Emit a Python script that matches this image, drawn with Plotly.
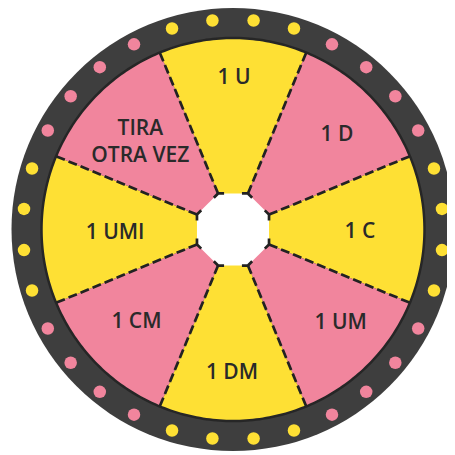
import numpy as np
import plotly.graph_objects as go

# ---- data ----
labels = ["1 U", "1 D", "1 C", "1 UM", "1 DM", "1 CM", "1 UMI", "TIRA<br>OTRA VEZ"]
weights = [1, 1, 1, 1, 1, 1, 1, 1]
sector_kind = ["y", "p", "y", "p", "y", "p", "y", "p"]
dots_per_sector = 4

# ---- geometry / style (pixel units in radial axis) ----
R_OUT = 221.5
R_IN = 191.5
R_DOT = 210
R_OCT = 39
label_r = [151, 140, 127, 143, 144, 134, 118, 126.5]
label_dtheta = [0.4, 3.0, 1.6, -3.9, 0.4, 1.1, -2.2, -2.1]

YELLOW = "#FEE034"
PINK = "#F1859D"
RIM = "#3E3E3E"
INK = "#222222"
colors = [YELLOW if k == "y" else PINK for k in sector_kind]

total = sum(weights)
widths = [360 * w / total for w in weights]
centers = []
acc = 0
for w in widths:
    centers.append(acc + w / 2 - widths[0] / 2)
    acc += w
boundaries = [c + w / 2 for c, w in zip(centers, widths)]

fig = go.Figure()

# sectors
fig.add_trace(go.Barpolar(
    r=[R_IN] * len(labels), theta=centers, width=widths,
    marker=dict(color=colors, line=dict(width=0)),
    hoverinfo="skip",
))

# dark line at rim inner edge
circ = np.linspace(0, 360, 361)
fig.add_trace(go.Scatterpolar(
    r=[R_IN] * len(circ), theta=circ, mode="lines",
    line=dict(color="#262626", width=2.5), hoverinfo="skip",
))

# rim dots
dot_theta, dot_col = [], []
for c, w, col in zip(centers, widths, colors):
    step = w / dots_per_sector
    for i in range(dots_per_sector):
        dot_theta.append(c - w / 2 + step * (i + 0.5))
        dot_col.append(col)
fig.add_trace(go.Scatterpolar(
    r=[R_DOT] * len(dot_theta), theta=dot_theta, mode="markers",
    marker=dict(size=12.5, color=dot_col, line=dict(width=0)),
    hoverinfo="skip",
))

# dividers
for b in boundaries:
    fig.add_trace(go.Scatterpolar(
        r=[R_OCT, R_IN], theta=[b, b], mode="lines",
        line=dict(color=INK, width=2.7, dash="9px,4px"), hoverinfo="skip",
    ))

# white octagon center
oct_theta = boundaries + [boundaries[0]]
fig.add_trace(go.Scatterpolar(
    r=[R_OCT] * len(oct_theta), theta=oct_theta, mode="lines",
    fill="toself", fillcolor="white", line=dict(width=0, color="white"),
    hoverinfo="skip",
))
side = 2 * R_OCT * np.sin(np.radians(22.5))
gap = side - 12
fig.add_trace(go.Scatterpolar(
    r=[R_OCT] * len(oct_theta), theta=oct_theta, mode="lines",
    line=dict(color=INK, width=2.7, dash=f"6px,{gap:.2f}px,6px,0px"),
    hoverinfo="skip",
))

# labels
fig.add_trace(go.Scatterpolar(
    r=label_r, theta=[c + d for c, d in zip(centers, label_dtheta)],
    mode="text", text=labels, textposition="middle center",
    textfont=dict(family="Open Sans", size=21, color="#2a2a2a", weight=600),
    hoverinfo="skip",
))

# the page body keeps the browser's default 8px margin; size the figure to fit
W = 447
CX, CY = 225, 221.5  # centre in figure pixels
fig.update_layout(
    width=W, height=W, margin=dict(l=0, r=0, t=0, b=0),
    paper_bgcolor="white", showlegend=False,
    polar=dict(
        domain=dict(x=[(CX - R_OUT) / W, (CX + R_OUT) / W],
                    y=[(W - CY - R_OUT) / W, min(1, (W - CY + R_OUT) / W)]),
        bgcolor=RIM,
        radialaxis=dict(visible=False, range=[0, R_OUT]),
        angularaxis=dict(rotation=90, direction="clockwise", showgrid=False,
                         showticklabels=False, ticks="", showline=False),
        bargap=0,
    ),
)

fig.write_html("out.html")
